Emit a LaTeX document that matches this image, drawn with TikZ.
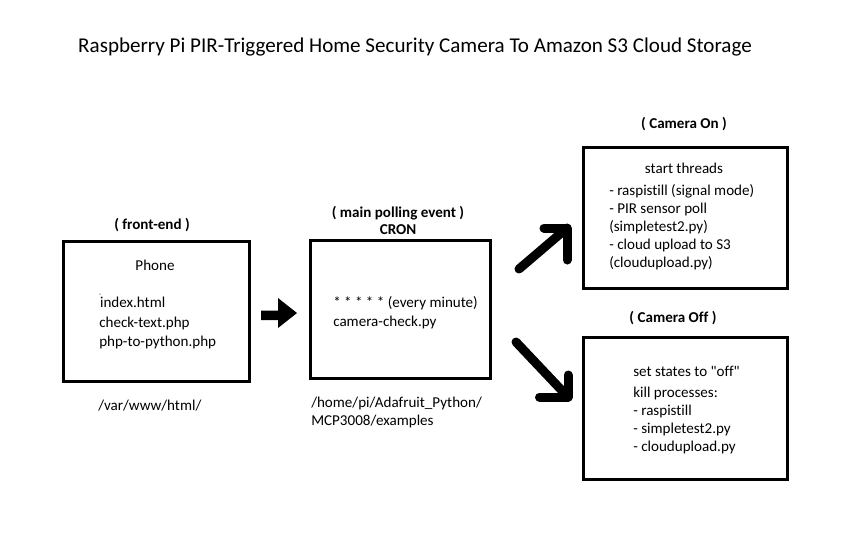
\documentclass[tikz,border=0pt]{standalone}
\usepackage{fontspec}
\setmainfont{Carlito}[Ligatures={NoCommon}]
\usetikzlibrary{positioning}

\tikzset{
    box/.style={draw, line width=2.25pt, inner sep=0pt},
    heading/.style={font=\bfseries\fontsize{11.3}{12.75}\selectfont, align=center, inner sep=0pt},
    body/.style={align=left, anchor=west, inner sep=0pt},
    bigarrow/.style={line width=6.75pt, line cap=round, line join=round},
}

\begin{document}
\begin{tikzpicture}[x=0.75pt, y=-0.75pt, font=\fontsize{11.3}{13.5}\selectfont]
    \useasboundingbox (0,0) rectangle (852,558);
    \node (title) at (415,47) {\fontsize{15.8}{19}\selectfont Raspberry Pi PIR-Triggered Home Security Camera To Amazon S3 Cloud Storage};

    % boxes
    \node[box, minimum width=139.5pt, minimum height=105pt] (phone) at (156,311) {};
    \node[box, minimum width=135pt, minimum height=103.5pt] (cron) at (400,309.5) {};
    \node[box, minimum width=153pt, minimum height=105.75pt] (camon) at (685,217.5) {};
    \node[box, minimum width=153pt, minimum height=106.5pt] (camoff) at (685,408) {};

    % front-end
    \node[heading] (phonelabel) at (152,225) {( front-end )};
    \node[inner sep=0pt] (phonename) at (155,265) {Phone};
    \node[body, font=\fontsize{11.3}{14.6}\selectfont] (phonefiles) at (99,321.5) {\makebox[0pt][l]{\raisebox{1.3ex}{\tiny\textquotesingle}}\hspace{0.6pt}index.html\\check-text.php\\php-to-python.php};
    \node[body] (phonepath) at (98,406) {/var/www/html/};

    % cron
    \node[heading] (cronlabel) at (398,220.5) {( main polling event )\\CRON};
    \node[body, font=\fontsize{11.3}{14.25}\selectfont] (cronjob) at (333,312.5) {* * * * * (every minute)\\camera-check.py};
    \node[body] (cronpath) at (311,412) {/home/pi/Adafruit\_Python/\\MCP3008/examples};

    % camera on
    \node[heading] (onlabel) at (684,124) {( Camera On )};
    \node[inner sep=0pt] (onhead) at (684,168) {start threads};
    \node[body] (onlist) at (609,227) {- raspistill (signal mode)\\- PIR sensor poll\\(simpletest2.py)\\- cloud upload to S3\\(cloudupload.py)};

    % camera off
    \node[heading] (offlabel) at (673,318) {( Camera Off )};
    \node[body] (offlist) at (633,410) {set states to \textquotedbl off\textquotedbl\\[2.25pt]kill processes:\\- raspistill\\- simpletest2.py\\- cloudupload.py};

    % arrows
    \coordinate (fattail) at (261,315.5);
    \coordinate (fattip) at (297,313);
    \fill (fattail) ++(0,-5) -- ++(17,0) -- (278,298) -- (fattip) -- (278,328) -- ++(0,-8) -- (261,320) -- cycle;

    \coordinate (uptail) at (519,269);
    \coordinate (uptip) at (567,228);
    \draw[bigarrow] (uptail) -- (uptip);
    \draw[bigarrow] (uptip) ++(-23,0) -- (uptip) -- ++(0,32);

    \coordinate (downtail) at (516,342);
    \coordinate (downtip) at (568,397);
    \draw[bigarrow] (downtail) -- (downtip);
    \draw[bigarrow] (downtip) ++(0,-22) -- (downtip) -- ++(-28.5,0);
\end{tikzpicture}
\end{document}
